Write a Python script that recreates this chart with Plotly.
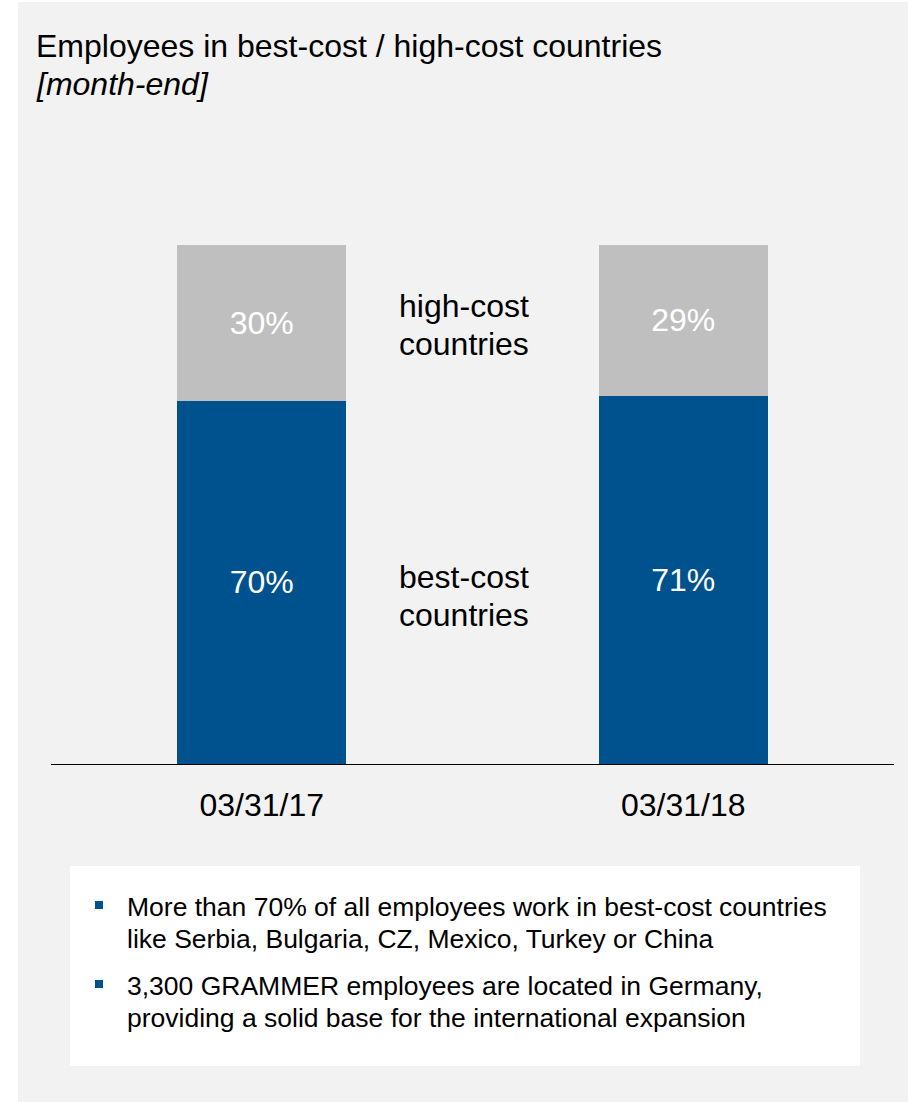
import plotly.graph_objects as go

# ---- data ----
dates = ["03/31/17", "03/31/18"]
best_cost = [70, 71]
high_cost = [30, 29]
series_names = ["best-cost countries", "high-cost countries"]
title_lines = ["Employees in best-cost / high-cost countries", "<i>[month-end]</i>"]
bullets = [
    ["More than 70% of all employees work in best-cost countries",
     "like Serbia, Bulgaria, CZ, Mexico, Turkey or China"],
    ["3,300 GRAMMER employees are located in Germany,",
     "providing a solid base for the international expansion"],
]

W, H = 908, 1102
FONT = "Liberation Sans, Arial, sans-serif"
BLUE = "#00528F"
GREY = "#BFBFBF"
PANEL = "#F2F2F2"
BIG = 32
SMALL = 26.5


def px(x):
    return x / W


def py(y):
    return 1 - y / H


fig = go.Figure()
for vals, name, col in [(best_cost, series_names[0], BLUE), (high_cost, series_names[1], GREY)]:
    fig.add_trace(go.Bar(
        x=dates, y=vals, name=name, marker_color=col,
        width=0.4, texttemplate="%{y}%", textposition="inside",
        insidetextanchor="middle", textangle=0,
        textfont=dict(color="white", size=BIG, family=FONT),
        marker_line_width=0,
    ))

shapes = [
    # grey panel
    dict(type="rect", xref="paper", yref="paper", x0=px(18), x1=1.0, y0=0, y1=py(2),
         fillcolor=PANEL, line_width=0, layer="below"),
    # white text box
    dict(type="rect", xref="paper", yref="paper", x0=px(70), x1=px(860), y0=py(1066), y1=py(866),
         fillcolor="white", line_width=0, layer="below"),
]
bullet_y = [(901, 909), (980, 988)]
for (y0, y1) in bullet_y:
    shapes.append(dict(type="rect", xref="paper", yref="paper", x0=px(95), x1=px(103),
                       y0=py(y1), y1=py(y0), fillcolor=BLUE, line_width=0))

annotations = []
# title
for txt, yc in zip(title_lines, [46, 84]):
    annotations.append(dict(text=txt, x=px(34), y=py(yc), xref="paper", yref="paper",
                            xanchor="left", yanchor="middle", showarrow=False,
                            font=dict(size=BIG, color="black", family=FONT)))
# series labels between bars
for lines, ys in [(["high-cost", "countries"], [306, 344]), (["best-cost", "countries"], [577, 615])]:
    for txt, yc in zip(lines, ys):
        annotations.append(dict(text=txt, x=px(397), y=py(yc), xref="paper", yref="paper",
                                xanchor="left", yanchor="middle", showarrow=False,
                                font=dict(size=BIG, color="black", family=FONT)))
# bullet text
for lines, ys in zip(bullets, [[907, 939], [986, 1018]]):
    for txt, yc in zip(lines, ys):
        annotations.append(dict(text=txt, x=px(125), y=py(yc), xref="paper", yref="paper",
                                xanchor="left", yanchor="middle", showarrow=False,
                                font=dict(size=SMALL, color="black", family=FONT)))

fig.update_layout(
    width=W, height=H,
    margin=dict(l=0, r=0, t=0, b=0),
    paper_bgcolor="white",
    plot_bgcolor="rgba(0,0,0,0)",
    barmode="stack",
    showlegend=False,
    shapes=shapes,
    annotations=annotations,
    xaxis=dict(domain=[px(51), px(894)], range=[-0.5, 1.5], type="category",
               showline=True, linecolor="black", linewidth=1, showgrid=False,
               ticks="outside", ticklen=13, tickcolor="rgba(0,0,0,0)",
               tickfont=dict(size=BIG, color="black", family=FONT), fixedrange=True),
    yaxis=dict(domain=[py(764), py(245)], range=[0, 100], visible=False, fixedrange=True),
)

fig.write_html("out.html")
